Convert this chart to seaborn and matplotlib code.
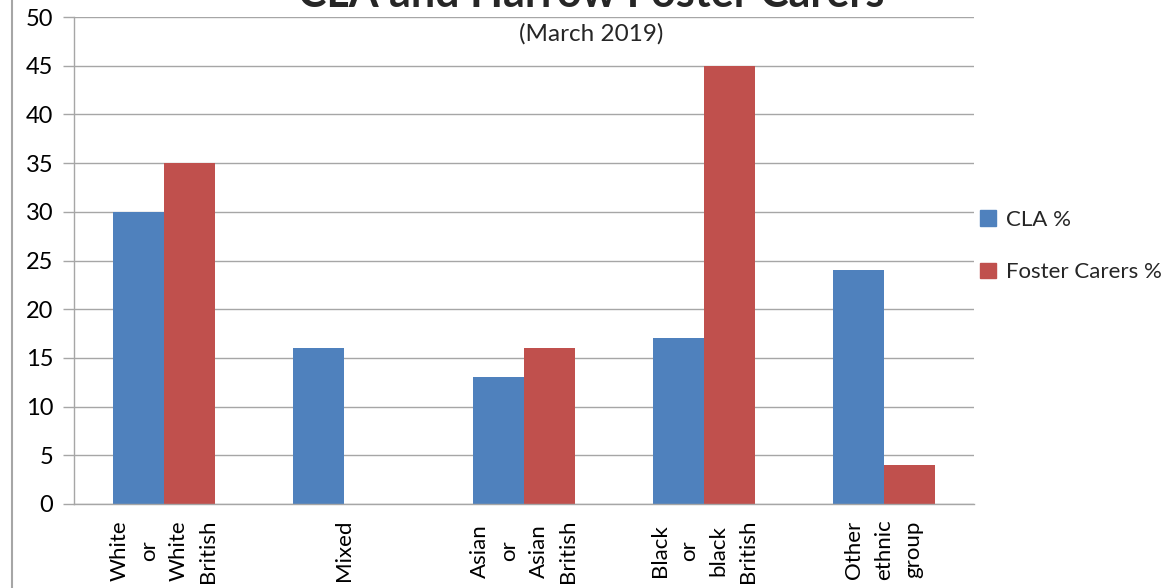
import matplotlib
matplotlib.use("Agg")
import matplotlib.pyplot as plt
from matplotlib.lines import Line2D
import seaborn as sns
import pandas as pd

# ---- data ----
categories = ["White or White British", "Mixed", "Asian or Asian British",
              "Black or black British", "Other ethnic group"]
tick_labels = ["White\nor\nWhite\nBritish", "Mixed", "Asian\nor\nAsian\nBritish",
               "Black\nor\nblack\nBritish", "Other\nethnic\ngroup"]
cla_pct = [30, 16, 13, 17, 24]
foster_pct = [35, 0, 16, 45, 4]
series_names = ["CLA %", "Foster Carers %"]
title_text = "CLA and Harrow Foster Carers"
subtitle_text = "(March 2019)"
y_ticks = list(range(0, 55, 5))

df = pd.DataFrame({
    "Group": categories * 2,
    "Series": [series_names[0]] * len(categories) + [series_names[1]] * len(categories),
    "Value": cla_pct + foster_pct,
})

sns.set_theme(style="white")
plt.rcParams["font.family"] = ["Lato", "DejaVu Sans"]

W, H = 1173, 588
fig = plt.figure(figsize=(W / 100, H / 100), dpi=100)
ax = fig.add_axes([74 / W, 1 - 504 / H, (974 - 74) / W, (504 - 17) / H])

colors = ["#4F81BD", "#C0504D"]
sns.barplot(data=df, x="Group", y="Value", hue="Series", order=categories,
            hue_order=series_names, palette=colors, width=0.57, saturation=1,
            ax=ax, legend=False, errorbar=None, edgecolor="none", linewidth=0)

grid_c = "#a6a6a6"
ax.set_ylim(0, 50)
ax.set_xlim(-0.5, len(categories) - 0.5)
ax.set_yticks(y_ticks)
ax.set_yticklabels([str(v) for v in y_ticks], fontsize=17, color="black")
ax.yaxis.grid(True, color=grid_c, linewidth=1)
ax.set_axisbelow(True)
ax.set_xlabel("")
ax.set_ylabel("")

ax.set_xticks(range(len(categories)))
ax.set_xticklabels(tick_labels, rotation=90, ha="center", va="top",
                   multialignment="center", fontsize=16, linespacing=1.6,
                   color="black")
ax.set_xticks([i - 0.5 for i in range(len(categories) + 1)], minor=True)
ax.tick_params(axis="x", which="major", length=0, pad=11)
ax.tick_params(axis="x", which="minor", length=8, color=grid_c, width=1, direction="out")
ax.tick_params(axis="y", which="major", length=8, color=grid_c, width=1,
               direction="out", pad=7, left=True)

for s in ["top", "right"]:
    ax.spines[s].set_visible(False)
for s in ["left", "bottom"]:
    ax.spines[s].set_color(grid_c)
    ax.spines[s].set_linewidth(1)

handles = [plt.Rectangle((0, 0), 1, 1, color=c) for c in colors]
fig.legend(handles, series_names, loc="center left",
           bbox_to_anchor=(980 / W, 1 - 246 / H), frameon=False, fontsize=16,
           handlelength=0.7, handleheight=0.7, handletextpad=0.45,
           labelspacing=1.45, borderaxespad=0, borderpad=0)

fig.text(591 / W, 1 - 7 / H, title_text, ha="center", va="baseline",
         fontweight="bold", fontsize=31)
fig.text(591 / W, 1 - 34 / H, subtitle_text, ha="center", va="center", fontsize=17.5)

fig.add_artist(Line2D([12 / W, 12 / W], [0, 1], transform=fig.transFigure,
                      color=grid_c, linewidth=1.5))

fig.savefig("out.png", dpi=100)
